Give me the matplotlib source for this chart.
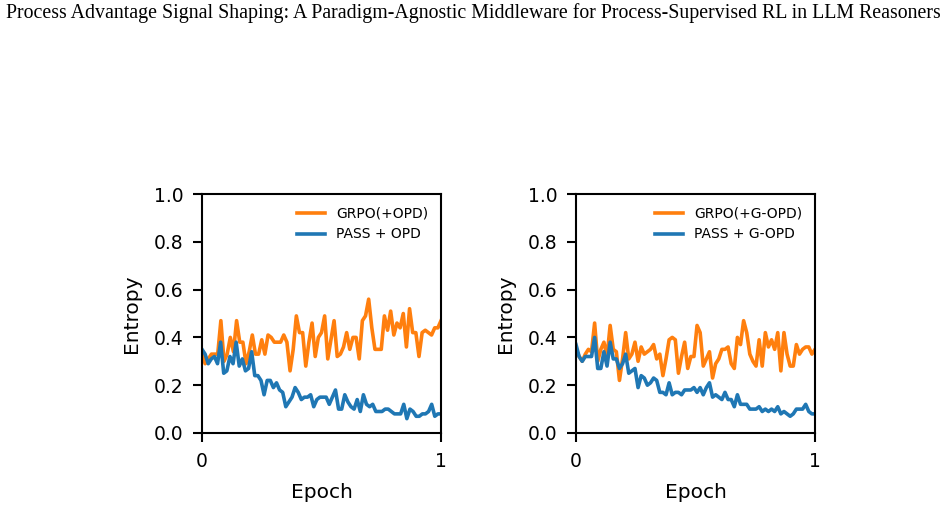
"""
Entropy curves during training: GRPO vs PASS, with OPD and G-OPD.
"""

import numpy as np
import matplotlib
matplotlib.use("Agg")
import matplotlib.pyplot as plt

# ---------------------------------------------------------------------------
# Data
# ---------------------------------------------------------------------------
grpo_opd = [0.33, 0.29, 0.31, 0.33, 0.33, 0.33, 0.47, 0.30, 0.33, 0.40,
            0.34, 0.47, 0.38, 0.38, 0.29, 0.34, 0.41, 0.33, 0.33, 0.39,
            0.33, 0.41, 0.40, 0.38, 0.38, 0.38, 0.41, 0.38, 0.26, 0.35,
            0.49, 0.42, 0.42, 0.28, 0.38, 0.46, 0.32, 0.40, 0.42, 0.49,
            0.31, 0.39, 0.47, 0.32, 0.33, 0.36, 0.42, 0.35, 0.40, 0.40,
            0.31, 0.47, 0.49, 0.56, 0.44, 0.35, 0.35, 0.35, 0.49, 0.43,
            0.51, 0.41, 0.46, 0.44, 0.50, 0.36, 0.52, 0.42, 0.42, 0.32,
            0.42, 0.43, 0.42, 0.41, 0.44, 0.44, 0.47]

pass_opd = [0.35, 0.33, 0.29, 0.31, 0.32, 0.29, 0.38, 0.25, 0.26, 0.32,
            0.29, 0.38, 0.28, 0.31, 0.26, 0.27, 0.34, 0.24, 0.24, 0.22,
            0.16, 0.22, 0.22, 0.19, 0.21, 0.18, 0.17, 0.11, 0.13, 0.15,
            0.19, 0.17, 0.14, 0.15, 0.15, 0.16, 0.11, 0.14, 0.15, 0.15,
            0.15, 0.12, 0.15, 0.18, 0.10, 0.10, 0.16, 0.13, 0.11, 0.10,
            0.14, 0.09, 0.16, 0.12, 0.11, 0.12, 0.09, 0.09, 0.09, 0.10,
            0.10, 0.09, 0.08, 0.08, 0.08, 0.12, 0.06, 0.10, 0.09, 0.07,
            0.07, 0.08, 0.08, 0.09, 0.12, 0.07, 0.08, 0.08]

grpo_gopd = [0.35, 0.32, 0.30, 0.33, 0.35, 0.34, 0.46, 0.30, 0.35, 0.38,
             0.32, 0.45, 0.35, 0.34, 0.22, 0.31, 0.42, 0.31, 0.33, 0.38,
             0.30, 0.36, 0.33, 0.34, 0.35, 0.37, 0.31, 0.33, 0.24, 0.31,
             0.39, 0.40, 0.39, 0.25, 0.32, 0.38, 0.27, 0.32, 0.32, 0.45,
             0.42, 0.28, 0.31, 0.34, 0.23, 0.29, 0.31, 0.35, 0.35, 0.36,
             0.29, 0.27, 0.40, 0.37, 0.47, 0.42, 0.33, 0.30, 0.28, 0.39,
             0.28, 0.42, 0.36, 0.39, 0.35, 0.42, 0.26, 0.42, 0.33, 0.28,
             0.28, 0.37, 0.33, 0.35, 0.36, 0.36, 0.33, 0.35]

pass_gopd = [0.37, 0.32, 0.30, 0.32, 0.32, 0.32, 0.40, 0.27, 0.27, 0.34,
             0.28, 0.38, 0.31, 0.31, 0.27, 0.29, 0.33, 0.25, 0.26, 0.27,
             0.19, 0.24, 0.23, 0.20, 0.21, 0.23, 0.22, 0.17, 0.17, 0.16,
             0.21, 0.16, 0.17, 0.17, 0.16, 0.18, 0.18, 0.18, 0.19, 0.17,
             0.19, 0.16, 0.19, 0.21, 0.15, 0.16, 0.15, 0.14, 0.17, 0.14,
             0.14, 0.11, 0.16, 0.12, 0.12, 0.12, 0.10, 0.10, 0.10, 0.11,
             0.09, 0.10, 0.09, 0.10, 0.09, 0.11, 0.08, 0.09, 0.08, 0.07,
             0.08, 0.10, 0.10, 0.10, 0.12, 0.09, 0.08, 0.08]

panels = [
    (grpo_opd, pass_opd, "GRPO(+OPD)", "PASS + OPD"),
    (grpo_gopd, pass_gopd, "GRPO(+G-OPD)", "PASS + G-OPD"),
]

ORANGE = "#ff7f0e"
BLUE = "#1f77b4"

fig = plt.figure(figsize=(9.47, 5.08), dpi=100)
fig.text(0.5, 0.975, "Process Advantage Signal Shaping: A Paradigm-Agnostic Middleware "
         "for Process-Supervised RL in LLM Reasoners",
         ha="center", va="center", fontsize=14.3, family="Liberation Serif")

lefts = [202 / 947, 576 / 947]
for left, (grpo, pas, lab_g, lab_p) in zip(lefts, panels):
    ax = fig.add_axes([left, 75 / 508, 239 / 947, 239 / 508])
    ax.plot(np.linspace(0, 1, len(grpo)), grpo, color=ORANGE, linewidth=2.6, label=lab_g)
    ax.plot(np.linspace(0, 1, len(pas)), pas, color=BLUE, linewidth=2.6, label=lab_p)

    ax.set_xlim(0, 1)
    ax.set_ylim(0, 1)
    ax.set_xticks([0, 1])
    ax.set_xticklabels(["0", "1"])
    ax.set_yticks([0.0, 0.2, 0.4, 0.6, 0.8, 1.0])
    ax.tick_params(labelsize=13.5, width=1.5, length=6.5, pad=7)
    for sp in ax.spines.values():
        sp.set_linewidth(1.5)
    ax.set_xlabel("Epoch", fontsize=14.5, labelpad=9)
    ax.set_ylabel("Entropy", fontsize=14.5, labelpad=9)
    ax.legend(loc="upper right", frameon=False, fontsize=10)

plt.savefig("out.png", dpi=100)
plt.close()
